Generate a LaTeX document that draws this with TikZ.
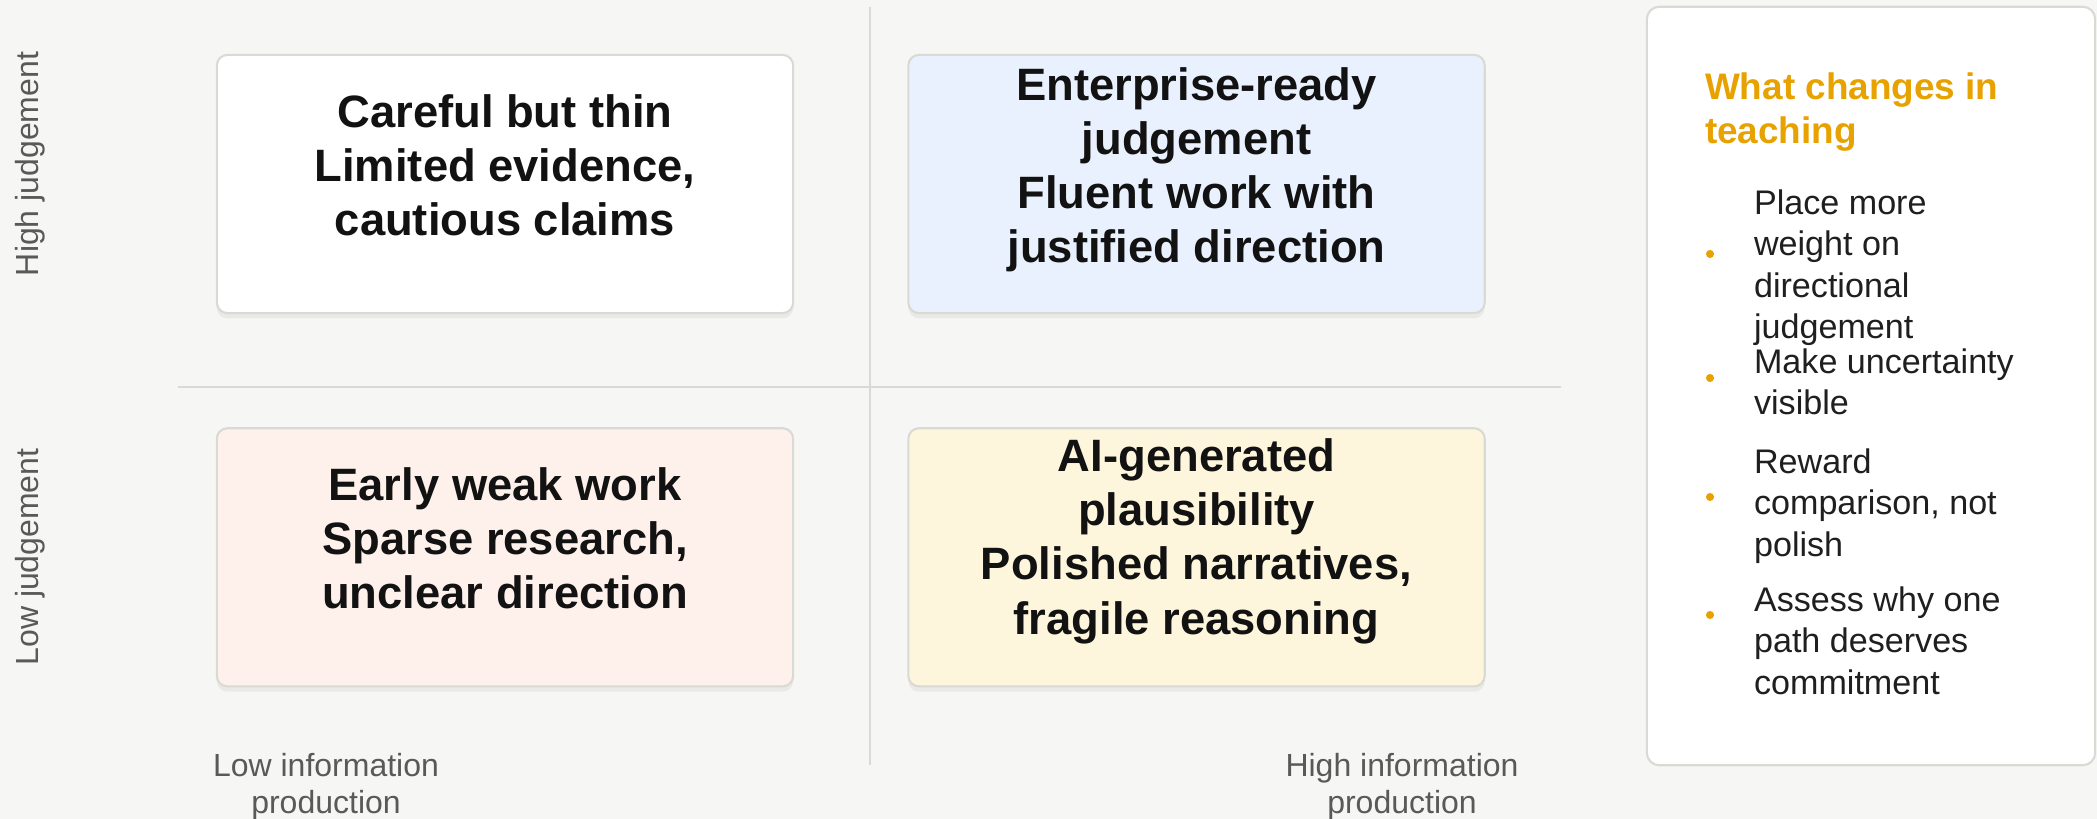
\documentclass[tikz,border=0pt]{standalone}
\usepackage{fontspec}
\setmainfont{Liberation Sans}
\usepackage{xcolor}
\usepackage{tikz}
\usetikzlibrary{positioning}
\usetikzlibrary{shadows}

\definecolor{bgcol}{HTML}{F6F6F4}
\definecolor{linecol}{HTML}{DADAD4}
\definecolor{blueq}{HTML}{EAF1FE}
\definecolor{pinkq}{HTML}{FEF0EA}
\definecolor{yellowq}{HTML}{FEF6DC}
\definecolor{amber}{HTML}{E8A200}
\definecolor{axisgrey}{HTML}{595959}

\begin{document}
\begin{tikzpicture}[x=0.01cm, y=-0.01cm, semithick]
	\tikzstyle{quad}=[draw=linecol, line width=0.6pt, rounded corners=3pt, minimum width=5.76cm, minimum height=2.58cm, drop shadow={shadow xshift=0pt, shadow yshift=-1.5pt, opacity=0.05, fill=black}]
	\tikzstyle{quadtext}=[align=center, inner sep=0pt, text=black!93, font=\fontsize{12.9}{15.4}\selectfont\bfseries]
	\tikzstyle{axislab}=[text=axisgrey, inner sep=0pt, font=\fontsize{9.1}{10.5}\selectfont]
	\tikzstyle{item}=[anchor=north west, align=left, inner sep=0pt, text=black!88, font=\fontsize{9.7}{11.7}\selectfont]

	\fill[bgcol] (0,0) rectangle (2097,819);
	\useasboundingbox (0,0) rectangle (2097,819);

	% axes
	\draw[linecol, line width=0.6pt] (870,7) -- (870,765);
	\draw[linecol, line width=0.6pt] (178,387) -- (1561,387);

	% quadrants
	\node[quad, fill=white] (lh) at (505,184) {};
	\node[quad, fill=blueq] (hh) [right=1.13cm of lh] {};
	\node[quad, fill=pinkq] (ll) [below=1.13cm of lh] {};
	\node[quad, fill=yellowq] (hl) [right=1.13cm of ll] {};

	\node[quadtext] (lhtext) at ([yshift=5.4pt]lh.center) {Careful but thin\\Limited evidence,\\cautious claims};
	\node[quadtext] (hhtext) at ([yshift=4pt]hh.center) {Enterprise-ready\\judgement\\Fluent work with\\justified direction};
	\node[quadtext] (lltext) at ([yshift=5.4pt]ll.center) {Early weak work\\Sparse research,\\unclear direction};
	\node[quadtext] (hltext) at ([yshift=4.6pt]hl.center) {AI-generated\\plausibility\\Polished narratives,\\fragile reasoning};

	\node[axislab, rotate=90] (highj) at (30,164) {High judgement};
	\node[axislab, rotate=90] (lowj) at (30,557) {Low judgement};
	\node[axislab, align=center, anchor=north] (lowinfo) at (326,752) {Low information\\production};
	\node[axislab, align=center, anchor=north] (highinfo) at (1402,752) {High information\\production};

	% side panel
	\node[draw=linecol, fill=white, line width=0.6pt, rounded corners=3.5pt, minimum width=4.48cm, minimum height=7.58cm] (teach) at (1871,386) {};
	\node[anchor=north west, align=left, inner sep=0pt, text=amber, font=\fontsize{10.5}{12.5}\selectfont\bfseries] (ttl) at (1704,72) {What changes in\\teaching};

	\node[item] (i1) at (1753,189) {Place more\\weight on\\directional\\judgement};
	\node[item] (i2) at (1753,348) {Make uncertainty\\visible};
	\node[item] (i3) at (1753,448) {Reward\\comparison, not\\polish};
	\node[item] (i4) at (1753,586) {Assess why one\\path deserves\\commitment};

	\foreach \y in {254,378,497,615}{
		\fill[amber] (1710,\y) circle (1.15pt);
	}
\end{tikzpicture}
\end{document}
